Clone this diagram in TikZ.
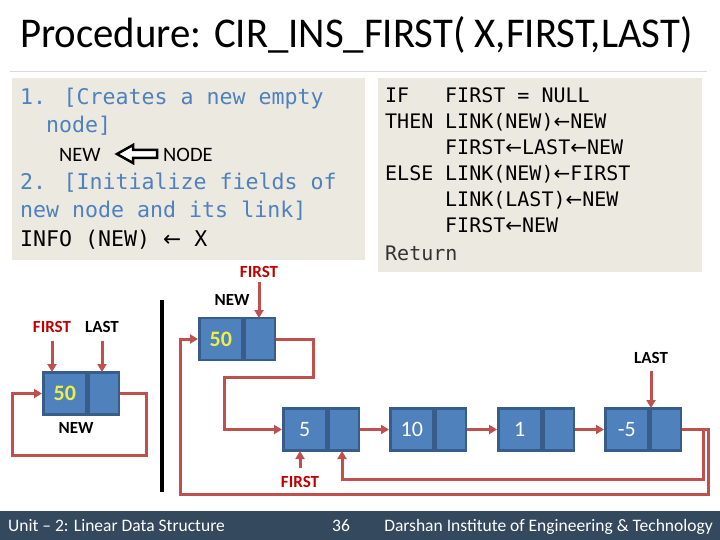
\documentclass[tikz,border=0pt]{standalone}
\usepackage{fontspec}
\setmainfont{Carlito}
\newfontfamily\codefont{DejaVu Sans Mono}
\newfontfamily\arrfont{DejaVu Sans}
\newcommand\myarr{{\arrfont ←}}
\usetikzlibrary{arrows.meta}
\definecolor{boxbg}{RGB}{236,233,225}
\definecolor{nodefill}{RGB}{79,129,189}
\definecolor{nodeborder}{RGB}{56,93,138}
\definecolor{connred}{RGB}{192,80,77}
\definecolor{labelred}{RGB}{192,0,0}
\definecolor{codeblue}{RGB}{79,129,189}
\definecolor{numyellow}{RGB}{235,240,70}
\definecolor{footerbg}{RGB}{52,73,94}
\definecolor{linegray}{RGB}{217,217,217}
\begin{document}
\begin{tikzpicture}[x=1pt,y=-1pt,
  info/.style={draw=nodeborder, fill=nodefill, line width=2.5pt, minimum width=43pt, minimum height=42pt, inner sep=0pt, anchor=west, text=white, font=\fontsize{22}{26}\selectfont},
  linkpart/.style={draw=nodeborder, fill=nodefill, line width=2.5pt, minimum width=30pt, minimum height=42pt, inner sep=0pt, anchor=west},
  conn/.style={draw=connred, line width=3pt},
  tip/.style={-{Triangle[length=8pt,width=9pt]}},
  lbl/.style={font=\bfseries\fontsize{17}{20}\selectfont, inner sep=0pt},
  codeL/.style={font=\codefont\fontsize{21.6}{26}\selectfont, anchor=base west, inner sep=0pt},
  codeR/.style={font=\codefont\fontsize{20}{24}\selectfont, anchor=base west, inner sep=0pt},
  foot/.style={font=\fontsize{17.5}{20}\selectfont, text=white, anchor=base west, inner sep=0pt}
]
\useasboundingbox (0,0) rectangle (720,540);
\fill[white] (0,0) rectangle (720,540);

% title
\node[anchor=base west, inner sep=0pt, font=\fontsize{40}{48}\selectfont] (title) at (20,48) {\scalebox{1.02}[1.06]{Procedure: CIR\_INS\_FIRST( X,FIRST,LAST)}};
\draw[linegray, line width=1pt] (10,72) -- (707,72);

% code boxes
\fill[boxbg] (12,78) rectangle (365,260);
\fill[boxbg] (378,78) rectangle (702,272);

% left code
\node[codeL, text=codeblue] (l1) at (20,105) {1. [Creates a new empty};
\node[codeL, text=codeblue] (l2) at (46,133) {node]};
\node[anchor=base west, inner sep=0pt, font=\fontsize{20.5}{24}\selectfont] (lnew) at (59,162) {NEW};
\draw[line width=2.5pt, fill=white, line join=miter] (117,154) -- (133,145) -- (133,150) -- (157,150) -- (157,158) -- (133,158) -- (133,163) -- cycle;
\node[anchor=base west, inner sep=0pt, font=\fontsize{20.5}{24}\selectfont] (lnode) at (163,162) {NODE};
\node[codeL, text=codeblue] (l3) at (20,190) {2. [Initialize fields of};
\node[codeL, text=codeblue] (l4) at (20,218) {new node and its link]};
\node[codeL] (l5) at (20,247) {INFO (NEW) \myarr{} X};

% right code
\node[codeR] (r1a) at (385,103) {IF};
\node[codeR] (r1b) at (445,103) {FIRST = NULL};
\node[codeR] (r2a) at (385,129) {THEN};
\node[codeR] (r2b) at (445,129) {LINK(NEW)\myarr NEW};
\node[codeR] (r3b) at (445,155) {FIRST\myarr LAST\myarr NEW};
\node[codeR] (r4a) at (385,181) {ELSE};
\node[codeR] (r4b) at (445,181) {LINK(NEW)\myarr FIRST};
\node[codeR] (r5b) at (445,207) {LINK(LAST)\myarr NEW};
\node[codeR] (r6b) at (445,233) {FIRST\myarr NEW};
\node[codeR, text=black!80] (r7a) at (385,260) {Return};

% separator
\draw[line width=4pt] (162,300) -- (162,492);

% left diagram
\node[info, font=\bfseries\fontsize{22}{26}\selectfont, text=numyellow] (Li) at (42,393.5) {50};
\node[linkpart] (Ll) at (Li.east) {};
\node[lbl, text=labelred] (lfirst) at (52,327) {FIRST};
\node[lbl] (llast) at (102,327) {LAST};
\node[lbl] (lnewlbl) at (76,428) {NEW};
\draw[conn, tip] (52,341) -- (52,372);
\draw[conn, tip] (102,341) -- (102,372);
\coordinate (c1) at (146,455);
\coordinate (c2) at (12,455);
\draw[conn, tip] (Ll.east) -| (c1) -- (c2) |- (Li.west);

% right diagram nodes
\node[info, font=\bfseries\fontsize{22}{26}\selectfont, text=numyellow] (N50i) at (198,339) {50};
\node[linkpart] (N50l) at (N50i.east) {};
\node[info] (N5i) at (282,429.5) {5};
\node[linkpart] (N5l) at (N5i.east) {};
\node[info] (N10i) at (389,429.5) {10};
\node[linkpart] (N10l) at (N10i.east) {};
\node[info] (N1i) at (497,429.5) {1};
\node[linkpart] (N1l) at (N1i.east) {};
\node[info] (Nm5i) at (604,429.5) {-5};
\node[linkpart] (Nm5l) at (Nm5i.east) {};

% right labels
\node[lbl, text=labelred] (rfirst) at (259,272) {FIRST};
\node[lbl] (rnew) at (232,300) {NEW};
\node[lbl] (rlast) at (651,358) {LAST};
\node[lbl, text=labelred] (bfirst) at (300,482) {FIRST};

\draw[conn, tip] (259,282) -- (259,318);
\draw[conn, tip] (651,371) -- (651,408);
\draw[conn, tip] (300,468) -- (300,451);

% right connectors
\coordinate (c3) at (313,377);
\coordinate (c4) at (224,377);
\draw[conn, tip] (N50l.east) -| (c3) -- (c4) |- (N5i.west);
\draw[conn, tip] (N5l.east) -- (N10i.west);
\draw[conn, tip] (N10l.east) -- (N1i.west);
\draw[conn, tip] (N1l.east) -- (Nm5i.west);
\coordinate (c5) at (703,479);
\coordinate (c6) at (342,479);
\draw[conn, tip] (Nm5l.east) -| (c5) -- (c6) -- (342,451);
\coordinate (c7) at (708,494);
\coordinate (c8) at (180,494);
\draw[conn, tip] (Nm5l.east) -| (c7) -- (c8) |- (N50i.west);

% footer
\fill[footerbg] (0,511) rectangle (720,540);
\node[foot] (f1) at (8,531) {Unit – 2: Linear Data Structure};
\node[foot] (f2) at (332,531) {36};
\node[foot, anchor=base east] (f3) at (713,531) {Darshan Institute of Engineering \& Technology};
\end{tikzpicture}
\end{document}
